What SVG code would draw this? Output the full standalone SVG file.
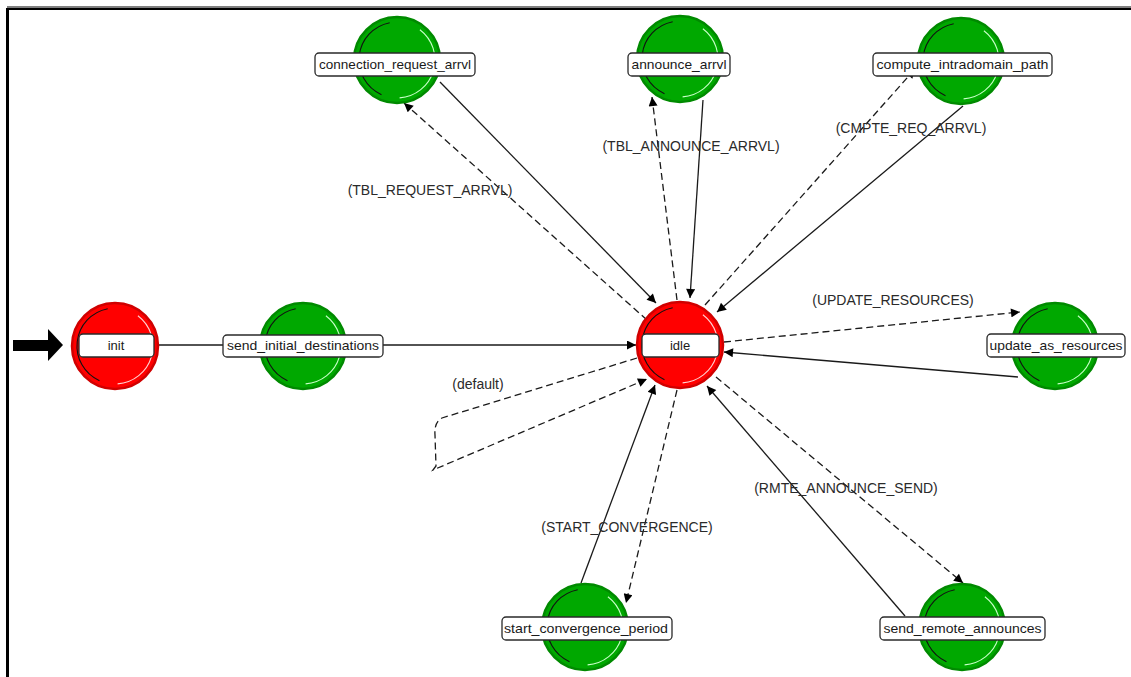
<svg xmlns="http://www.w3.org/2000/svg" width="1131" height="677" viewBox="0 0 1131 677">
  <style>
    .bg { fill: #ffffff; }
    .frame { stroke: #000; fill: none; }
    .edge { stroke: #1a1a1a; stroke-width: 1.3; fill: none; }
    .cond { stroke-dasharray: 7 4; }
    .red .disc { fill: #ff0000; stroke: #d00000; stroke-width: 2.5; }
    .green .disc { fill: #00a800; stroke: #008a00; stroke-width: 2.5; }
    .shade { fill: none; stroke: #111; stroke-width: 1.1; }
    .red .hl { fill: none; stroke: #ffd0d0; stroke-width: 1.1; }
    .green .hl { fill: none; stroke: #c8ffc8; stroke-width: 1.1; }
    .tag { fill: #ffffff; stroke: #2a2a2a; stroke-width: 1.3; }
    .name { font-family: "Liberation Sans", Arial, sans-serif; font-size: 13px; fill: #1a1a1a; text-anchor: middle; }
    .cond-label { font-family: "Liberation Sans", Arial, sans-serif; font-size: 14px; fill: #2a2a2a; text-anchor: middle; }
  </style>
  <defs>
    <marker id="arr" viewBox="0 0 10 10" refX="10" refY="5" markerWidth="11" markerHeight="9" orient="auto" markerUnits="userSpaceOnUse">
      <path d="M0,0 L10,5 L0,10 z" fill="#000"/>
    </marker>
  </defs>

  <rect class="bg" x="0" y="0" width="1131" height="677"/>
  <!-- window frame -->
  <line class="frame" x1="7" y1="7" x2="1131" y2="7" stroke="#888" stroke-width="1"/>
  <line class="frame" x1="7" y1="9" x2="1131" y2="9" stroke-width="2"/>
  <line class="frame" x1="7.5" y1="8" x2="7.5" y2="677" stroke-width="3"/>

  <!-- initial state pointer -->
  <polygon points="13,340 48,340 48,329 63,345 48,361 48,351 13,351" fill="#000"/>

  <g id="connectors">
    <line class="edge" x1="158" y1="345" x2="224" y2="345"/>
    <line class="edge" x1="383" y1="345" x2="636" y2="345" marker-end="url(#arr)"/>

    <line class="edge cond" x1="647" y1="320" x2="404" y2="103" marker-end="url(#arr)"/>
    <line class="edge" x1="440" y1="82" x2="656" y2="303" marker-end="url(#arr)"/>

    <line class="edge cond" x1="677" y1="300" x2="652" y2="97" marker-end="url(#arr)"/>
    <line class="edge" x1="703" y1="100" x2="690" y2="298" marker-end="url(#arr)"/>

    <line class="edge cond" x1="705" y1="305" x2="915" y2="69" marker-end="url(#arr)"/>
    <line class="edge" x1="963" y1="106" x2="717" y2="312" marker-end="url(#arr)"/>

    <line class="edge cond" x1="724" y1="342" x2="1020" y2="312" marker-end="url(#arr)"/>
    <line class="edge" x1="1018" y1="377" x2="724" y2="352" marker-end="url(#arr)"/>

    <path class="edge cond" d="M637,358 L442,418 Q434,422 435,435 L436,466 L433,470 L647,379" marker-end="url(#arr)"/>

    <line class="edge" x1="581" y1="583" x2="655" y2="385" marker-end="url(#arr)"/>
    <line class="edge cond" x1="677" y1="390" x2="626" y2="603" marker-end="url(#arr)"/>

    <line class="edge cond" x1="716" y1="377" x2="963" y2="583" marker-end="url(#arr)"/>
    <line class="edge" x1="905" y1="616" x2="707" y2="386" marker-end="url(#arr)"/>

    <text class="cond-label" x="430" y="195">(TBL_REQUEST_ARRVL)</text>
    <text class="cond-label" x="691" y="151">(TBL_ANNOUNCE_ARRVL)</text>
    <text class="cond-label" x="911" y="133">(CMPTE_REQ_ARRVL)</text>
    <text class="cond-label" x="893" y="305">(UPDATE_RESOURCES)</text>
    <text class="cond-label" x="478" y="389">(default)</text>
    <text class="cond-label" x="627" y="532">(START_CONVERGENCE)</text>
    <text class="cond-label" x="846" y="493">(RMTE_ANNOUNCE_SEND)</text>
  </g>

  <g id="init" class="red" transform="translate(115,346)">
    <circle class="disc" r="43"/>
    <path class="shade" d="M-15.5,34.7 A38,38 0 0 1 -7.3,-37.3"/>
    <path class="hl" d="M22.9,-30.3 A38,38 0 0 1 2.6,37.9"/>
    <rect class="tag" x="-36" y="-12" width="75" height="23" rx="4"/>
    <text class="name" x="1" y="4">init</text>
  </g>

  <g id="send_initial_destinations" class="green" transform="translate(303,346)">
    <circle class="disc" r="43"/>
    <path class="shade" d="M-15.5,34.7 A38,38 0 0 1 -7.3,-37.3"/>
    <path class="hl" d="M22.9,-30.3 A38,38 0 0 1 2.6,37.9"/>
    <rect class="tag" x="-80" y="-11" width="160" height="22" rx="4"/>
    <text class="name" x="0" y="4" textLength="152" lengthAdjust="spacingAndGlyphs">send_initial_destinations</text>
  </g>

  <g id="idle" class="red" transform="translate(680,345)">
    <circle class="disc" r="43"/>
    <path class="shade" d="M-15.5,34.7 A38,38 0 0 1 -7.3,-37.3"/>
    <path class="hl" d="M22.9,-30.3 A38,38 0 0 1 2.6,37.9"/>
    <rect class="tag" x="-38" y="-11" width="77" height="23" rx="4"/>
    <text class="name" x="0" y="5">idle</text>
  </g>

  <g id="connection_request_arrvl" class="green" transform="translate(397,60)">
    <circle class="disc" r="43"/>
    <path class="shade" d="M-15.5,34.7 A38,38 0 0 1 -7.3,-37.3"/>
    <path class="hl" d="M22.9,-30.3 A38,38 0 0 1 2.6,37.9"/>
    <rect class="tag" x="-82" y="-7" width="160" height="23" rx="4"/>
    <text class="name" x="-2" y="9" textLength="152" lengthAdjust="spacingAndGlyphs">connection_request_arrvl</text>
  </g>

  <g id="announce_arrvl" class="green" transform="translate(680,59)">
    <circle class="disc" r="43"/>
    <path class="shade" d="M-15.5,34.7 A38,38 0 0 1 -7.3,-37.3"/>
    <path class="hl" d="M22.9,-30.3 A38,38 0 0 1 2.6,37.9"/>
    <rect class="tag" x="-52" y="-6" width="102" height="23" rx="4"/>
    <text class="name" x="-1" y="10" textLength="95" lengthAdjust="spacingAndGlyphs">announce_arrvl</text>
  </g>

  <g id="compute_intradomain_path" class="green" transform="translate(961,61)">
    <circle class="disc" r="43"/>
    <path class="shade" d="M-15.5,34.7 A38,38 0 0 1 -7.3,-37.3"/>
    <path class="hl" d="M22.9,-30.3 A38,38 0 0 1 2.6,37.9"/>
    <rect class="tag" x="-88" y="-8" width="179" height="23" rx="4"/>
    <text class="name" x="1.5" y="8" textLength="172" lengthAdjust="spacingAndGlyphs">compute_intradomain_path</text>
  </g>

  <g id="update_as_resources" class="green" transform="translate(1055,346)">
    <circle class="disc" r="43"/>
    <path class="shade" d="M-15.5,34.7 A38,38 0 0 1 -7.3,-37.3"/>
    <path class="hl" d="M22.9,-30.3 A38,38 0 0 1 2.6,37.9"/>
    <rect class="tag" x="-68" y="-12" width="138" height="23" rx="4"/>
    <text class="name" x="1" y="4" textLength="133" lengthAdjust="spacingAndGlyphs">update_as_resources</text>
  </g>

  <g id="start_convergence_period" class="green" transform="translate(585,627)">
    <circle class="disc" r="43"/>
    <path class="shade" d="M-15.5,34.7 A38,38 0 0 1 -7.3,-37.3"/>
    <path class="hl" d="M22.9,-30.3 A38,38 0 0 1 2.6,37.9"/>
    <rect class="tag" x="-83" y="-10" width="170" height="23" rx="4"/>
    <text class="name" x="1" y="6" textLength="164" lengthAdjust="spacingAndGlyphs">start_convergence_period</text>
  </g>

  <g id="send_remote_announces" class="green" transform="translate(962,627)">
    <circle class="disc" r="43"/>
    <path class="shade" d="M-15.5,34.7 A38,38 0 0 1 -7.3,-37.3"/>
    <path class="hl" d="M22.9,-30.3 A38,38 0 0 1 2.6,37.9"/>
    <rect class="tag" x="-82" y="-10" width="165" height="23" rx="4"/>
    <text class="name" x="0.5" y="6" textLength="158" lengthAdjust="spacingAndGlyphs">send_remote_announces</text>
  </g>
</svg>
